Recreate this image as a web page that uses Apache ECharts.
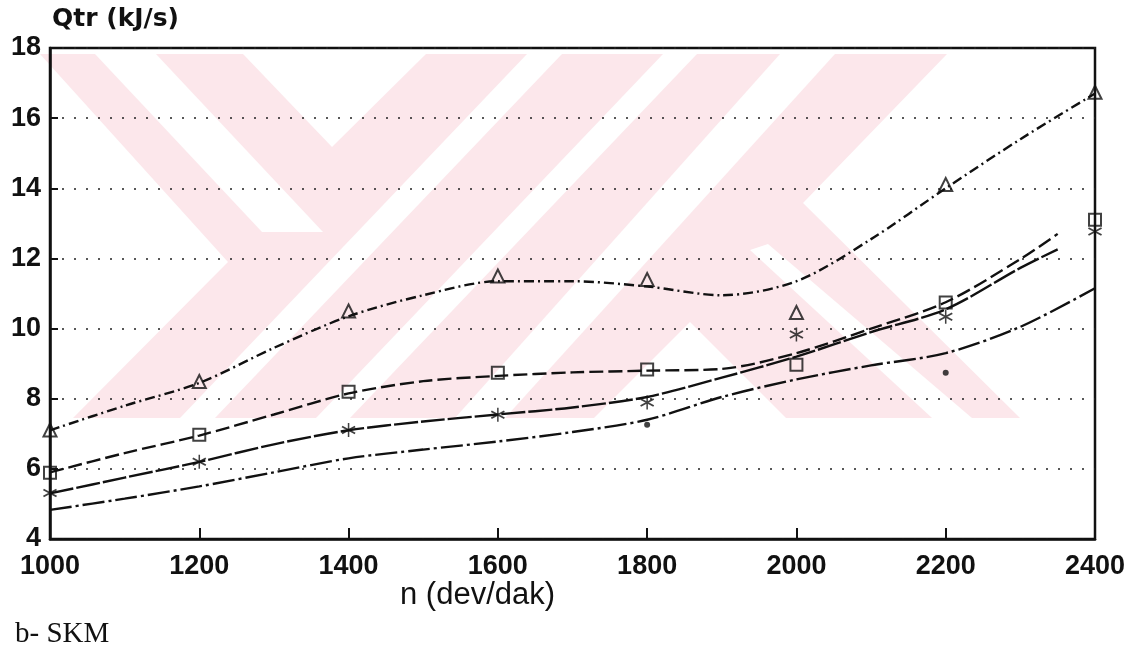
<!DOCTYPE html>
<html>
<head>
<meta charset="utf-8">
<script src="https://cdn.jsdelivr.net/npm/echarts@6/dist/echarts.min.js"></script>
<style>
html,body{margin:0;padding:0;background:#fff;}
#chart{width:1143px;height:655px;}
</style>
</head>
<body>
<div id="chart"></div>
<script>
// ---- data ----
const xTicks = [1000, 1200, 1400, 1600, 1800, 2000, 2200, 2400];
const yTicks = [4, 6, 8, 10, 12, 14, 16, 18];
const rpm = [1000, 1200, 1400, 1600, 1800, 2000, 2200, 2400];
const triPts  = [7.11, 8.49, 10.5, 11.5, 11.4, 10.46, 14.11, 16.74];
const sqPts   = [5.89, 6.97, 8.2, 8.74, 8.83, 8.97, 10.74, 13.1];
const starPts = [5.31, 6.2, 7.11, 7.54, 7.89, 9.83, 10.34, 12.77];
const dotPts  = [null, null, null, null, 7.26, null, 8.74, null];

const curveN  = [1000,1100,1200,1300,1400,1500,1600,1700,1800,1900,2000,2100,2200,2300,2400];
const curveN2 = [1000,1100,1200,1300,1400,1500,1600,1700,1800,1900,2000,2100,2200,2300,2350];
const triCurve  = [7.1, 7.8, 8.45, 9.45, 10.35, 10.95, 11.35, 11.35, 11.2, 10.95, 11.35, 12.55, 14.0, 15.4, 16.7];
const sqCurve   = [5.9, 6.45, 6.95, 7.55, 8.15, 8.5, 8.65, 8.75, 8.8, 8.85, 9.3, 10.0, 10.75, 11.98, 12.7];
const starCurve = [5.3, 5.75, 6.2, 6.7, 7.1, 7.35, 7.55, 7.75, 8.05, 8.6, 9.2, 9.9, 10.55, 11.73, 12.26];
const dotCurve  = [4.83, 5.15, 5.5, 5.9, 6.3, 6.55, 6.78, 7.05, 7.4, 8.05, 8.55, 8.95, 9.3, 10.05, 11.15];

const yTitle = 'Qtr (kJ/s)';
const xTitle = 'n (dev/dak)';
const caption = 'b- SKM';

// ---- build ----
const zip = (xs, ys) => xs.map((x, i) => [x, ys[i]]);
const INK = '#111';
const asterisk = 'path://M9 0L11 0L11 20L9 20Z M0.74 6.04L1.94 3.96L19.26 13.96L18.06 16.04Z M1.94 16.04L0.74 13.96L18.06 3.96L19.26 6.04Z';

function curve(name, xs, ys, dash) {
  return {
    name, type: 'line', data: zip(xs, ys), smooth: 0.3, symbol: 'none',
    lineStyle: { color: INK, width: 2.4, type: dash }, z: 3, silent: true
  };
}
function marks(name, ys, symbol, size, filled) {
  return {
    name, type: 'scatter', data: zip(rpm, ys).filter(d => d[1] != null),
    symbol, symbolSize: size, z: 4,
    itemStyle: filled ? { color: INK } : { color: 'rgba(0,0,0,0)', borderColor: INK, borderWidth: 2 }
  };
}

const PINK = '#fce7eb';
function poly(points, fill, z) {
  return { type: 'polygon', shape: { points }, style: { fill }, z, silent: true };
}

const chart = echarts.init(document.getElementById('chart'), null, { renderer: 'canvas' });
chart.setOption({
  animation: false,
  backgroundColor: '#fff',
  grid: { left: 50, right: 48, top: 48, bottom: 116, show: true, borderColor: INK, borderWidth: 2.5, backgroundColor: 'transparent' },
  xAxis: {
    type: 'value', min: xTicks[0], max: xTicks[xTicks.length - 1], interval: 200,
    axisLine: { show: true, lineStyle: { color: INK, width: 2.5 } },
    axisTick: { show: true, inside: true, length: 11, lineStyle: { color: INK, width: 2 } },
    splitLine: { show: false },
    axisLabel: { color: INK, fontFamily: 'Liberation Sans', fontWeight: 'bold', fontSize: 27, margin: 14,
                 formatter: v => String(v) }
  },
  yAxis: {
    type: 'value', min: yTicks[0], max: yTicks[yTicks.length - 1], interval: 2,
    axisLine: { show: true, lineStyle: { color: INK, width: 2.5 } },
    axisTick: { show: true, inside: true, length: 8, lineStyle: { color: INK, width: 2 } },
    splitLine: { show: true, lineStyle: { color: '#222', width: 1.6, type: [2, 10] } },
    axisLabel: { color: INK, fontFamily: 'Liberation Sans', fontWeight: 'bold', fontSize: 27, margin: 9,
                 formatter: v => String(v) }
  },
  graphic: [
    // watermark (light pink logo behind the plot)
    poly([[40,54],[947,54],[803,203],[1020,418],[73,418],[228,262]], PINK, -10),
    poly([[95,54],[156,54],[323,232],[262,232]], '#fff', -9),
    poly([[243,54],[426,54],[332,147]], '#fff', -9),
    poly([[527,54],[562,54],[215,418],[180,418]], '#fff', -9),
    poly([[663,54],[697,54],[350,418],[316,418]], '#fff', -9),
    poly([[780,54],[835,54],[505,418],[455,418]], '#fff', -9),
    poly([[690,322],[594,418],[786,418]], '#fff', -9),
    poly([[750,250],[768,244],[972,418],[932,418]], '#fff', -9),
    // texts
    { type: 'text', left: 52, top: 7, z: 10,
      style: { text: yTitle, fill: INK, font: 'bold 25px "DejaVu Sans"' } },
    { type: 'text', left: 400, top: 580, z: 10,
      style: { text: xTitle, fill: INK, font: '31px "Liberation Sans"' } },
    { type: 'text', left: 15, top: 620, z: 10,
      style: { text: caption, fill: INK, font: '29px "Liberation Serif"' } }
  ],
  series: [
    curve('tri-fit', curveN, triCurve, [10, 4, 2, 4]),
    curve('sq-fit', curveN2, sqCurve, [14, 5]),
    curve('star-fit', curveN2, starCurve, [24, 3]),
    curve('dot-fit', curveN, dotCurve, [22, 4, 3, 4]),
    marks('tri', triPts, 'triangle', 13, false),
    marks('sq', sqPts, 'rect', 12, false),
    marks('star', starPts, asterisk, 14, true),
    marks('dot', dotPts, 'circle', 6, true)
  ]
});
</script>
</body>
</html>
